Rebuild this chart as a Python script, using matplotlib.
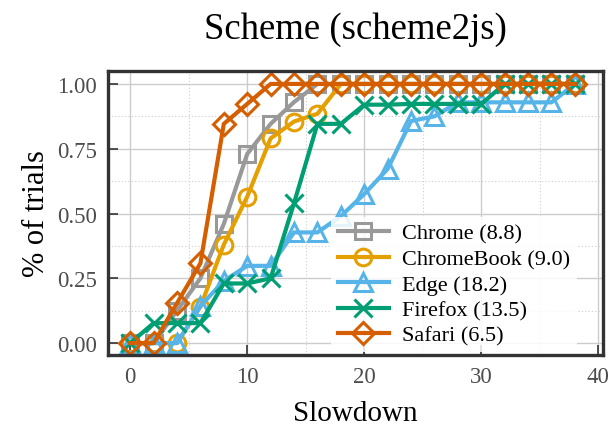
import matplotlib
matplotlib.use("Agg")
import matplotlib.pyplot as plt
from matplotlib.ticker import MultipleLocator

plt.rcParams['font.family'] = ['Liberation Serif', 'DejaVu Serif']
plt.rcParams['mathtext.fontset'] = 'stix'

# Slowdown thresholds (x) and cumulative fraction of trials per browser
slowdown = [0, 2, 4, 6, 8, 10, 12, 14, 16, 18, 20, 22, 24, 26, 28, 30, 32, 34, 36, 38]

chrome = [0, 0, 0.125, 0.25, 0.46, 0.73, 0.846, 0.93, 1, 1,
          1, 1, 1, 1, 1, 1, 1, 1, 1, 1]
chromebook = [0, 0, 0, 0.14, 0.38, 0.565, 0.79, 0.855, 0.885, 1,
              1, 1, 1, 1, 1, 1, 1, 1, 1, 1]
edge = [0, 0, 0, 0.143, 0.24, 0.298, 0.298, 0.427, 0.427, 0.49,
        0.575, 0.672, 0.857, 0.875, 0.929, 0.929, 0.929, 0.929, 0.929, 1]
firefox = [0, 0.077, 0.077, 0.077, 0.23, 0.23, 0.25, 0.54, 0.846, 0.846,
           0.92, 0.92, 0.923, 0.923, 0.923, 0.923, 1, 1, 1, 1]
safari = [0, 0, 0.154, 0.308, 0.846, 0.923, 1, 1, 1, 1,
          1, 1, 1, 1, 1, 1, 1, 1, 1, 1]

labels = ["Chrome (8.8)", "ChromeBook (9.0)", "Edge (18.2)", "Firefox (13.5)", "Safari (6.5)"]
series = [chrome, chromebook, edge, firefox, safari]
colors = ["#999999", "#E69F00", "#56B4E9", "#009E73", "#D55E00"]
markers = ["s", "o", "^", "x", "D"]
msizes = [12, 12, 13, 13, 11]

fig = plt.figure(figsize=(6.1, 4.27), dpi=100)
ax = fig.add_axes([0.177, 0.1663, 0.8115, 0.6651])

for ys, lab, c, m, ms in zip(series, labels, colors, markers, msizes):
    ax.plot(slowdown, ys, color=c, marker=m, markersize=ms, fillstyle='none',
            markeredgewidth=2.2, linewidth=3.0, label=lab)

ax.set_xlim(-1.9, 40.4)
ax.set_ylim(-0.046, 1.05)
ax.xaxis.set_major_locator(MultipleLocator(10))
ax.xaxis.set_minor_locator(MultipleLocator(5))
ax.yaxis.set_major_locator(MultipleLocator(0.25))
ax.yaxis.set_minor_locator(MultipleLocator(0.125))
ax.yaxis.set_major_formatter(matplotlib.ticker.FormatStrFormatter('%.2f'))

ax.grid(which='major', color='#cccccc', linewidth=1.0, zorder=0)
ax.grid(which='minor', color='#cccccc', linewidth=0.8, linestyle=(0, (1, 2)), zorder=0)
ax.set_axisbelow(True)

for sp in ax.spines.values():
    sp.set_color('#333333')
    sp.set_linewidth(2.4)

ax.tick_params(which='major', direction='in', length=7, width=1.2, color='#333333',
               labelsize=16.5, labelcolor='#4d4d4d', pad=8)
ax.tick_params(which='minor', length=0)

ax.set_xlabel("Slowdown", fontsize=21, labelpad=9)
ax.set_ylabel("% of trials", fontsize=22, labelpad=4)
ax.set_title("Scheme (scheme2js)", fontsize=26.5, pad=24)

leg = ax.legend(loc='lower right', bbox_to_anchor=(0.97, -0.03), fontsize=16,
                frameon=True, framealpha=0.85, edgecolor='none', fancybox=False,
                handlelength=2.3, handletextpad=0.6, labelspacing=0.22,
                borderpad=0.3)

fig.savefig("out.png", dpi=100)
